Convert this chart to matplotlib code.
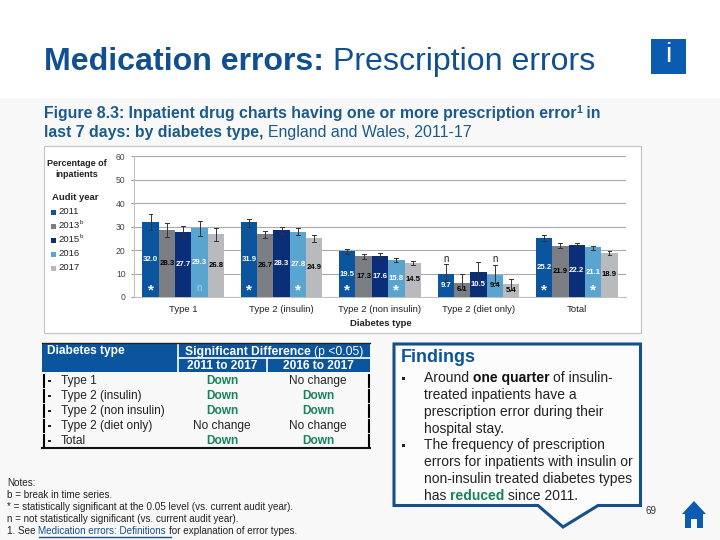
import matplotlib
matplotlib.use('Agg')
import matplotlib.pyplot as plt
from matplotlib.patches import Rectangle, Polygon

plt.rcParams['font.family'] = ['Liberation Sans', 'DejaVu Sans']

# Chart values
groups = ['Type 1', 'Type 2 (insulin)', 'Type 2 (non insulin)', 'Type 2 (diet only)', 'Total']
years = ['2011', '2013', '2015', '2016', '2017']
year_sup = ['', 'b', 'b', '', '']
y2011 = [32.0, 31.9, 19.5, 9.7, 25.2]
y2013 = [28.3, 26.7, 17.3, 6.1, 21.9]
y2015 = [27.7, 28.3, 17.6, 10.5, 22.2]
y2016 = [29.3, 27.8, 15.8, 9.4, 21.1]
y2017 = [26.8, 24.9, 14.5, 5.4, 18.9]
low2011 = [28.5, 30.0, 18.5, 7.0, 24.0]
high2011 = [35.5, 33.0, 20.5, 14.0, 26.2]
low2013 = [25.5, 25.2, 16.0, 3.5, 21.0]
high2013 = [31.3, 28.0, 18.5, 9.7, 22.8]
low2015 = [25.0, 26.8, 16.5, 7.0, 21.5]
high2015 = [30.3, 29.8, 18.7, 15.0, 22.8]
low2016 = [26.0, 26.2, 14.8, 6.0, 20.2]
high2016 = [32.5, 29.2, 16.8, 13.7, 21.9]
low2017 = [24.0, 23.5, 13.5, 3.0, 18.0]
high2017 = [29.5, 26.2, 15.3, 7.5, 19.7]
yticks = [0, 10, 20, 30, 40, 50, 60]

# Significance marks for 2011 and 2016 bars
marks2011 = ['*', '*', '*', 'n', '*']
marks2016 = ['n', '*', '*', 'n', '*']

# Table
table_names = ['Type 1', 'Type 2 (insulin)', 'Type 2 (non insulin)', 'Type 2 (diet only)', 'Total']
table_2011 = ['Down', 'Down', 'Down', 'No change', 'Down']
table_2016 = ['No change', 'Down', 'Down', 'No change', 'Down']

BLUE = '#0b559f'
DARK = '#15508c'
GREEN = '#17855a'
series = [y2011, y2013, y2015, y2016, y2017]
lows = [low2011, low2013, low2015, low2016, low2017]
highs = [high2011, high2013, high2015, high2016, high2017]
colors = ['#0b559f', '#7b7f83', '#0a2f78', '#5aa5cf', '#b8babd']
label_colors = [['white'] * 5,
                ['black'] * 5,
                ['white'] * 5,
                ['white', 'white', 'white', 'black', 'white'],
                ['black'] * 5]

fig = plt.figure(figsize=(7.2, 5.4), dpi=100)

# Page layer in pixel coordinates
page = fig.add_axes([0, 0, 1, 1])
page.set_xlim(0, 720)
page.set_ylim(540, 0)
page.axis('off')


def runs(x, y, parts, size):
    # Write text pieces one after another on the same baseline
    r = fig.canvas.get_renderer()
    for part in parts:
        s, weight, col = part
        t = page.text(x, y, s, fontsize=size, fontweight=weight, color=col, va='baseline', ha='left')
        x += t.get_window_extent(r).width
    return x


page.add_patch(Rectangle((0, 98), 720, 442, color='#f8f8f8', lw=0))
page.add_patch(Rectangle((44, 146), 597, 187, facecolor='white', edgecolor='#c4c4c4', lw=0.8))

# Heading
runs(44, 70, [('Medication errors: ', 'bold', '#0f4f92'), ('Prescription errors', 'normal', '#0f4f92')], 23.1)
page.add_patch(Rectangle((651, 39), 35, 35, color='#0b5cb0', lw=0))
page.text(668.5, 55, 'i', color='white', fontsize=20, ha='center', va='center')

x = runs(44, 118, [('Figure 8.3: Inpatient drug charts having one or more prescription error', 'bold', '#1b5a8c')], 11.4)
page.text(x, 113, '1', fontsize=7.5, fontweight='bold', color='#1b5a8c')
runs(x + 5, 118, [(' in', 'bold', '#1b5a8c')], 11.4)
runs(44, 137, [('last 7 days: by diabetes type, ', 'bold', '#1b5a8c'), ('England and Wales, 2011-17', 'normal', '#1b5a8c')], 11.4)

# Chart legend block
page.text(77, 169, 'Percentage of\ninpatients', fontsize=6.5, fontweight='bold', ha='center', va='center', linespacing=1.25, color='#222222')
page.text(52, 197, 'Audit year', fontsize=6.8, fontweight='bold', va='center', color='#222222')
for i, yr in enumerate(years):
    ly = 212 + i * 14
    page.add_patch(Rectangle((51, ly - 2), 4.5, 4.5, color=colors[i], lw=0))
    page.text(58, ly, yr, fontsize=6.8, va='center', color='#222222')
    if year_sup[i]:
        page.text(79.5, ly - 3, year_sup[i], fontsize=4.5, va='center', color='#222222')

# Bar chart
ax = fig.add_axes([134 / 720, 1 - 297 / 540, 492 / 720, 141 / 540])
ax.set_facecolor('none')
width = 0.166
for i in range(5):
    xs = [g + (i - 2) * width for g in range(5)]
    ax.bar(xs, series[i], width=width, color=colors[i], zorder=2)
    for j, xp in enumerate(xs):
        ax.plot([xp, xp], [lows[i][j], highs[i][j]], color='#333333', lw=0.7, zorder=3)
        for yv in (lows[i][j], highs[i][j]):
            ax.plot([xp - 0.02, xp + 0.02], [yv, yv], color='#333333', lw=0.7, zorder=3)
        ax.text(xp, series[i][j] / 2, '%.1f' % series[i][j], color=label_colors[i][j],
                fontsize=5.6, fontweight='bold', ha='center', va='center', zorder=4)

for g in range(5):
    for offset, mark_list in ((-2, marks2011), (1, marks2016)):
        xp = g + offset * width
        if mark_list[g] == '*':
            ax.text(xp, 2.6, '*', color='white', fontsize=11, fontweight='bold', ha='center', va='center', zorder=4)
        elif g == 3:
            ax.text(xp, 16, 'n', color='#222222', fontsize=7, ha='center', va='center', zorder=4)
        else:
            ax.text(xp, 3.8, 'n', color='#a8d4ec', fontsize=7, ha='center', va='center', zorder=4)

ax.set_xlim(-0.5, 4.5)
ax.set_ylim(0, 60)
ax.set_yticks(yticks)
ax.set_xticks(range(5))
ax.set_xticklabels(groups, fontsize=6.8, color='#222222')
ax.tick_params(axis='x', length=0, pad=6)
ax.tick_params(axis='y', length=2, labelsize=6.2, labelcolor='#444444', color='#999999', pad=4)
ax.grid(axis='y', color='#ababab', lw=0.8, zorder=0)
ax.set_axisbelow(True)
for side in ['top', 'right']:
    ax.spines[side].set_visible(False)
for side in ['left', 'bottom']:
    ax.spines[side].set_color('#bdbdbd')
    ax.spines[side].set_linewidth(0.7)
page.text(381, 323, 'Diabetes type', fontsize=6.8, fontweight='bold', ha='center', va='center', color='#222222')

# Significance table
page.add_patch(Rectangle((42, 343), 328, 29, color=BLUE, lw=0))
page.plot([178, 178], [343, 372], color='white', lw=1.2)
page.plot([267, 267], [358, 372], color='white', lw=1.2)
page.plot([178, 370], [357.5, 357.5], color='white', lw=1.2)
page.plot([42, 370], [343, 343], color='#222222', lw=1)
page.text(47, 351, 'Diabetes type', color='white', fontsize=8.6, fontweight='bold', va='center')
x = runs(185, 354.5, [('Significant Difference ', 'bold', 'white'), ('(p <0.05)', 'normal', 'white')], 8.7)
page.text(222, 366, '2011 to 2017', color='white', fontsize=8.6, fontweight='bold', ha='center', va='center')
page.text(318, 366, '2016 to 2017', color='white', fontsize=8.6, fontweight='bold', ha='center', va='center')
for i, name in enumerate(table_names):
    ry = 381 + i * 15
    page.plot([43.5, 43.5], [ry - 6, ry + 6], color='black', lw=1.5)
    page.plot([369, 369], [ry - 6, ry + 6], color='black', lw=1.5)
    page.add_patch(Rectangle((48, ry - 1.5), 2.5, 2.5, color='#222222', lw=0))
    page.text(61, ry, name, fontsize=8.6, va='center', color='#222222')
    for cx, val in ((222, table_2011[i]), (318, table_2016[i])):
        down = val == 'Down'
        page.text(cx, ry, val, fontsize=8.6, ha='center', va='center',
                  fontweight='bold' if down else 'normal', color=GREEN if down else '#222222')
page.plot([42, 370], [447.5, 447.5], color='#111111', lw=1.5)

# Notes
notes = ['Notes:', 'b = break in time series.', '* = statistically significant at the 0.05 level (vs. current audit year).',
         'n = not statistically significant (vs. current audit year).']
for i, line in enumerate(notes):
    page.text(7, 483.5 + i * 12, line, fontsize=7.1, va='center', color='#222222')
x = runs(7, 534, [('1. See ', 'normal', '#222222'), ('Medication errors: Definitions ', 'normal', '#15508c'),
                  ('for explanation of error types.', 'normal', '#222222')], 7.1)
page.plot([39, 171], [536.5, 536.5], color='#15508c', lw=1)

# Findings callout
page.add_patch(Polygon([(394, 344), (640.5, 344), (640.5, 505.5), (598, 505.5), (563, 527), (538, 505.5), (394, 505.5)],
                       closed=True, facecolor='#fcfcfc', edgecolor=DARK, lw=2.2))
page.text(401, 357, 'Findings', fontsize=13, fontweight='bold', color=BLUE, va='center')
for by in (378, 445):
    page.add_patch(Rectangle((402, by - 1), 2.5, 2.5, color='#222222', lw=0))
runs(424, 382, [('Around ', 'normal', '#222222'), ('one quarter ', 'bold', '#111111'), ('of insulin-', 'normal', '#222222')], 10)
for i, line in enumerate(['treated inpatients have a', 'prescription error during their', 'hospital stay.']):
    page.text(424, 399 + i * 17, line, fontsize=10, color='#222222', va='baseline')
for i, line in enumerate(['The frequency of prescription', 'errors for inpatients with insulin or', 'non-insulin treated diabetes types']):
    page.text(424, 449 + i * 17, line, fontsize=10, color='#222222', va='baseline')
runs(424, 500, [('has ', 'normal', '#222222'), ('reduced ', 'bold', GREEN), ('since 2011.', 'normal', '#222222')], 10)

# Page number and home icon
page.text(646, 511.5, '69', fontsize=7, color='#333333', va='center')
page.add_patch(Polygon([(694, 501), (706, 514), (703, 514), (703, 528), (697, 528), (697, 519), (691, 519),
                        (691, 528), (685, 528), (685, 514), (682, 514)], closed=True, color='#0b5cb0', lw=0))

fig.savefig('out.png', dpi=100)
